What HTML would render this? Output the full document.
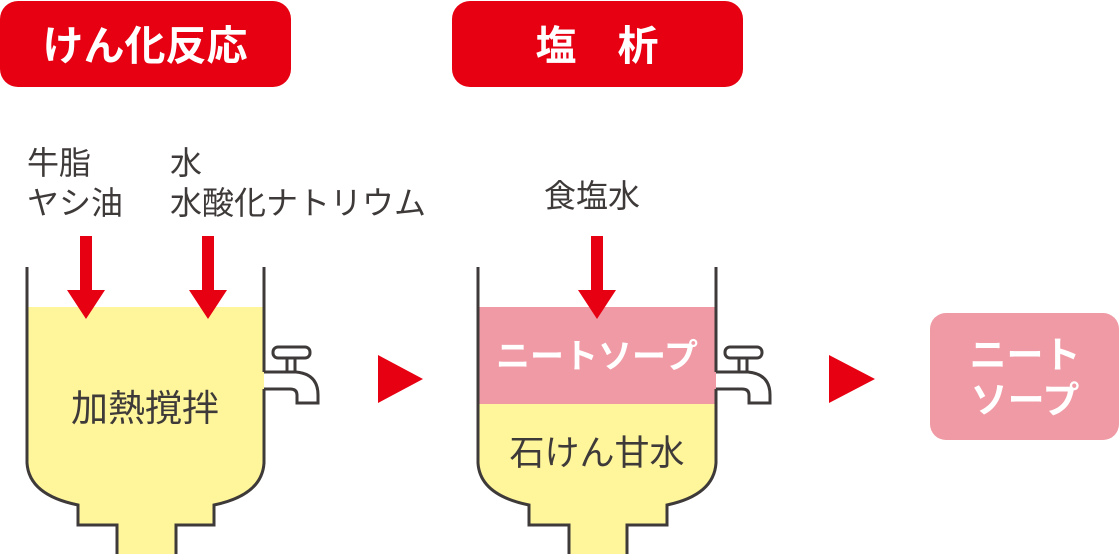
<!DOCTYPE html>
<html><head><meta charset="utf-8"><style>
html,body{margin:0;padding:0;background:#fff;width:1120px;height:554px;overflow:hidden}
svg{display:block}
text{font-family:"Liberation Sans","Noto Sans CJK JP",sans-serif}
</style></head><body>
<svg width="1120" height="554" viewBox="0 0 1120 554" xmlns="http://www.w3.org/2000/svg">
<!-- titles -->
<rect x="0" y="1" width="291" height="86" rx="18" fill="#e60012"/>
<text x="145" y="60" text-anchor="middle" font-size="41" font-weight="bold" fill="#fff">けん化反応</text>
<rect x="452" y="1" width="291" height="86" rx="18" fill="#e60012"/>
<text x="597" y="60" text-anchor="middle" font-size="41" font-weight="bold" fill="#fff" xml:space="preserve">塩　析</text>

<!-- labels -->
<g font-size="32" fill="#3e3a39">
<text x="27" y="174">牛脂</text>
<text x="27" y="214">ヤシ油</text>
<text x="170" y="174">水</text>
<text x="170" y="214">水酸化ナトリウム</text>
<text x="544" y="207">食塩水</text>
</g>

<!-- tank 1 -->
<path d="M27,307 H264 V463 Q262,495 214,505 V525 H176 V554 H117 V525 H78 V505 Q29,495 27,463 Z" fill="#fff59b"/>
<path d="M27,267 V463 Q29,495 78,505 V525 H117 V554 M176,554 V525 H214 V505 Q262,495 264,463 V389 M264,372 V267" fill="none" stroke="#3e3a39" stroke-width="3"/>
<text x="145" y="421" text-anchor="middle" font-size="37" fill="#3e3a39">加熱撹拌</text>
<g fill="#fff" stroke="#3e3a39" stroke-width="3">
<path d="M264,372 H296 Q318,374 318,395 V403 H297 V395 Q297,389 290,389 H264"/>
<rect x="287" y="357" width="8" height="15"/>
<rect x="273" y="347" width="37" height="11" rx="5"/>
</g>

<!-- tank 2 -->
<path d="M478,404 H716 V463 Q714,495 667,505 V525 H627 V554 H569 V525 H529 V505 Q480,495 478,463 Z" fill="#fff59b"/>
<rect x="478" y="307" width="238" height="97" fill="#ef9aa4"/>
<path d="M478,267 V463 Q480,495 529,505 V525 H569 V554 M627,554 V525 H667 V505 Q714,495 716,463 V389 M716,372 V267" fill="none" stroke="#3e3a39" stroke-width="3"/>
<text x="597" y="368" text-anchor="middle" font-size="34" font-weight="bold" fill="#fff">ニートソープ</text>
<text x="597" y="465" text-anchor="middle" font-size="35" fill="#3e3a39">石けん甘水</text>
<g fill="#fff" stroke="#3e3a39" stroke-width="3">
<path d="M716,372 H748 Q770,374 770,395 V403 H749 V395 Q749,389 742,389 H716"/>
<rect x="739" y="357" width="8" height="15"/>
<rect x="725" y="347" width="37" height="11" rx="5"/>
</g>

<!-- arrows -->
<g fill="#e60012">
<rect x="80" y="236" width="12" height="56"/><polygon points="67,290 105,290 86,319"/>
<rect x="202" y="236" width="12" height="56"/><polygon points="189,290 227,290 208,319"/>
<rect x="591" y="236" width="12" height="56"/><polygon points="578,290 616,290 597,319"/>
</g>

<!-- triangles -->
<polygon points="378,355 378,403 423,379" fill="#e60012"/>
<polygon points="829,355 829,403 875,379" fill="#e60012"/>

<!-- result -->
<rect x="930" y="313" width="189" height="127" rx="16" fill="#ef9aa4"/>
<text x="1025" y="368" text-anchor="middle" font-size="37" font-weight="bold" fill="#fff">ニート</text>
<text x="1025" y="413" text-anchor="middle" font-size="37" font-weight="bold" fill="#fff">ソープ</text>
</svg>
</body></html>
